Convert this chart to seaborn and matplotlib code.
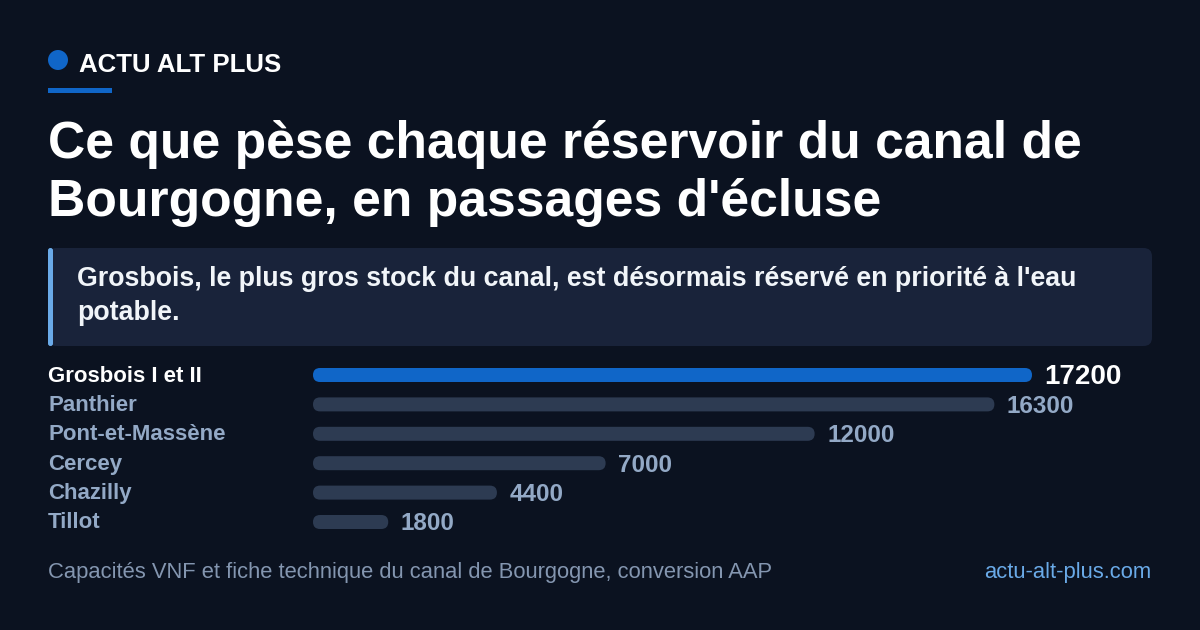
import numpy as np
import pandas as pd
import matplotlib
matplotlib.use('Agg')
import matplotlib.pyplot as plt
import seaborn as sns
from matplotlib.patches import FancyBboxPatch, Ellipse, Rectangle
from matplotlib.transforms import blended_transform_factory

sns.set_theme(style='white')
plt.rcParams['font.family'] = ['Liberation Sans', 'DejaVu Sans']

# data
reservoirs = ['Grosbois I et II', 'Panthier', 'Pont-et-Massène', 'Cercey', 'Chazilly', 'Tillot']
passages = [17200, 16300, 12000, 7000, 4400, 1800]
highlight = 'Grosbois I et II'

kicker = 'ACTU ALT PLUS'
title_lines = ["Ce que pèse chaque réservoir du canal de", "Bourgogne, en passages d'écluse"]
subtitle_lines = ["Grosbois, le plus gros stock du canal, est désormais réservé en priorité à l'eau", "potable."]
source = 'Capacités VNF et fiche technique du canal de Bourgogne, conversion AAP'
site = 'actu-alt-plus.com'

BG = '#0b1220'
BOX = '#19233a'
ACCENT = '#6aaae8'
BLUE = '#1066c8'
MUTED_BAR = '#2d3b52'
MUTED_TXT = '#93a9c6'
WHITE = '#ffffff'

W, H = 1200, 630
fig = plt.figure(figsize=(12, 6.3), dpi=100, facecolor=BG)

def fx(px):
    return px / W

def fy(py):
    return 1 - py / H

# header
fig.patches.append(Ellipse((fx(58), fy(60)), 20 / W, 20 / H, transform=fig.transFigure,
                           facecolor=BLUE, edgecolor='none'))
fig.text(fx(79), fy(72), kicker, color=WHITE, fontsize=18.6, fontweight='bold', va='baseline')
fig.patches.append(Rectangle((fx(48), fy(93)), 64 / W, 5 / H, transform=fig.transFigure,
                             facecolor=BLUE, edgecolor='none'))

fig.text(fx(48), fy(158), title_lines[0], color=WHITE, fontsize=37.2, fontweight='bold', va='baseline')
fig.text(fx(48), fy(216), title_lines[1], color=WHITE, fontsize=37.2, fontweight='bold', va='baseline')

# subtitle box
fig.patches.append(FancyBboxPatch((fx(48), fy(346)), (1152 - 48) / W, (346 - 248) / H,
                                  boxstyle='round,pad=0,rounding_size=0.007',
                                  mutation_aspect=W / H,
                                  transform=fig.transFigure, facecolor=BOX, edgecolor='none'))
fig.patches.append(FancyBboxPatch((fx(48), fy(346)), 5 / W, (346 - 248) / H,
                                  boxstyle='round,pad=0,rounding_size=0.002',
                                  mutation_aspect=W / H,
                                  transform=fig.transFigure, facecolor=ACCENT, edgecolor='none'))
fig.text(fx(77), fy(286), subtitle_lines[0], color='#f1f5f9', fontsize=19.3, fontweight='bold', va='baseline')
fig.text(fx(77), fy(320), subtitle_lines[1], color='#f1f5f9', fontsize=19.3, fontweight='bold', va='baseline')

# bars
row_top, row_step = 375, 29.4
n = len(reservoirs)
ax_top = row_top - row_step / 2
ax_bot = row_top + row_step * (n - 0.5)
ax = fig.add_axes([fx(313), fy(ax_bot), (1032 - 313) / W, (ax_bot - ax_top) / H])
ax.set_facecolor('none')

df = pd.DataFrame({'reservoir': reservoirs, 'passages': passages})
colors = {r: (BLUE if r == highlight else MUTED_BAR) for r in reservoirs}
sns.barplot(data=df, x='passages', y='reservoir', hue='reservoir', palette=colors,
            legend=False, orient='h', width=14 / row_step, ax=ax, saturation=1)

ax.set_xlim(0, max(passages))
ax.set_ylim(n - 0.5, -0.5)
ax.set_xlabel('')
ax.set_ylabel('')
ax.set_xticks([])
ax.set_yticks([])
for s in ax.spines.values():
    s.set_visible(False)

# rounded bar ends
x_per_px = max(passages) / (1032 - 313)
y_per_px = 1 / row_step
for p in list(ax.patches):
    x0, y0, w, h = p.get_x(), p.get_y(), p.get_width(), p.get_height()
    fc = p.get_facecolor()
    p.remove()
    ax.add_patch(FancyBboxPatch((x0, y0), w, h,
                                boxstyle='round,pad=0,rounding_size=%f' % (7 * x_per_px),
                                mutation_aspect=y_per_px / x_per_px,
                                facecolor=fc, edgecolor='none'))

lab_tr = blended_transform_factory(fig.transFigure, ax.transData)
for i, (r, v) in enumerate(zip(reservoirs, passages)):
    hl = r == highlight
    ax.text(fx(48), i + 1 / row_step, r, transform=lab_tr, color=WHITE if hl else MUTED_TXT,
            fontsize=16, fontweight='bold', va='center', ha='left')
    ax.annotate(str(v), (v, i + 2 / row_step), xytext=(9, 0), textcoords='offset points',
                color=WHITE if hl else MUTED_TXT, fontsize=20 if hl else 17.5,
                fontweight='bold', va='center', ha='left', annotation_clip=False)

# footer
fig.text(fx(48), fy(578), source, color='#8496b0', fontsize=15.8, va='baseline')
fig.text(fx(1151), fy(578), site, color=ACCENT, fontsize=15.8, va='baseline', ha='right')

fig.savefig('out.png', dpi=100, facecolor=BG)
